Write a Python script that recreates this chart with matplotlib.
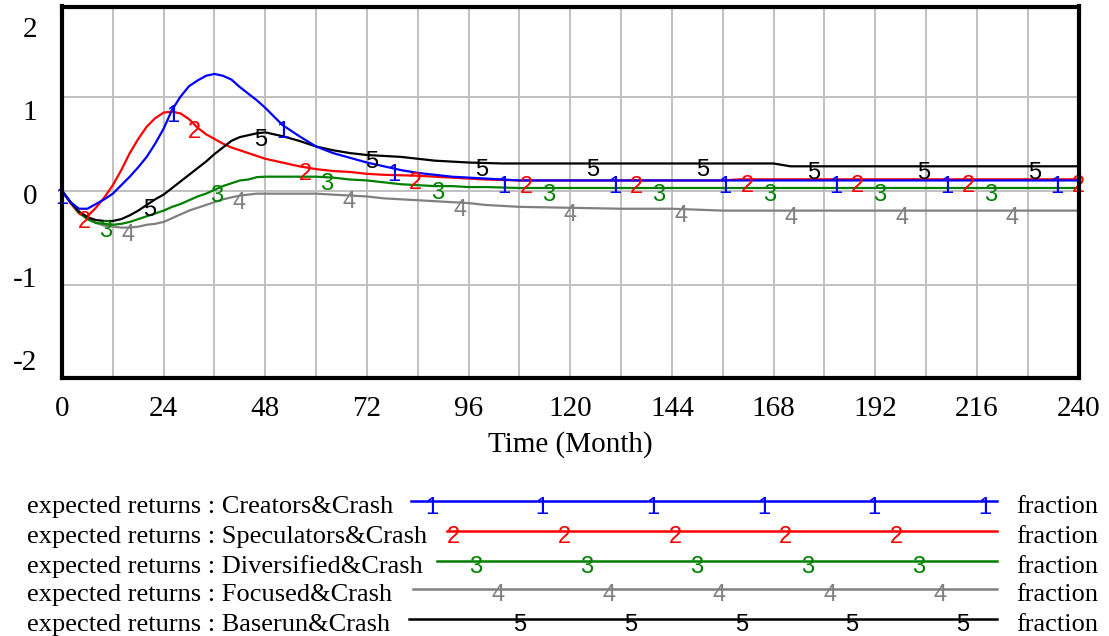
import numpy as np
import matplotlib
matplotlib.use("Agg")
import matplotlib.pyplot as plt
from matplotlib.lines import Line2D

# ---- data (months, expected returns as fraction) ----
months = [0, 2, 4, 6, 8, 10, 12, 14, 16, 18, 20, 22, 24, 26, 28, 30, 32, 34,
          36, 38, 40, 42, 44, 46, 48, 52, 56, 60, 64, 68, 72, 76, 80, 84, 88,
          92, 96, 100, 104, 108, 120, 132, 144, 156, 160, 168, 172, 180, 192,
          204, 216, 228, 240]

creators = [0.0, -0.12, -0.19, -0.19, -0.14, -0.09, -0.03, 0.06, 0.15, 0.25,
            0.36, 0.50, 0.66, 0.86, 1.00, 1.11, 1.17, 1.22, 1.24, 1.22, 1.18,
            1.10, 1.03, 0.96, 0.88, 0.70, 0.58, 0.47, 0.40, 0.35, 0.30, 0.26,
            0.22, 0.19, 0.17, 0.15, 0.14, 0.13, 0.12, 0.11, 0.11, 0.11, 0.11,
            0.11, 0.11, 0.11, 0.11, 0.11, 0.11, 0.11, 0.11, 0.11, 0.11]

speculators = [0.0, -0.13, -0.24, -0.27, -0.18, -0.07, 0.06, 0.22, 0.40, 0.55,
               0.68, 0.77, 0.83, 0.84, 0.82, 0.76, 0.67, 0.60, 0.55, 0.50,
               0.46, 0.43, 0.40, 0.37, 0.34, 0.30, 0.26, 0.23, 0.21, 0.20,
               0.18, 0.17, 0.165, 0.16, 0.15, 0.14, 0.13, 0.12, 0.115, 0.11,
               0.11, 0.11, 0.11, 0.11, 0.122, 0.122, 0.122, 0.122, 0.122,
               0.122, 0.122, 0.122, 0.122]

diversified = [0.0, -0.12, -0.23, -0.30, -0.34, -0.35, -0.36, -0.35, -0.33,
               -0.30, -0.27, -0.24, -0.21, -0.17, -0.14, -0.10, -0.06, -0.03,
               0.01, 0.05, 0.08, 0.11, 0.12, 0.145, 0.15, 0.15, 0.15, 0.15,
               0.14, 0.12, 0.11, 0.09, 0.07, 0.06, 0.05, 0.05, 0.04, 0.04,
               0.035, 0.03, 0.03, 0.03, 0.03, 0.03, 0.03, 0.03, 0.03, 0.03,
               0.03, 0.03, 0.03, 0.03, 0.03]

focused = [0.0, -0.12, -0.23, -0.30, -0.34, -0.37, -0.38, -0.39, -0.39, -0.38,
           -0.36, -0.35, -0.33, -0.29, -0.25, -0.21, -0.18, -0.15, -0.12,
           -0.09, -0.07, -0.05, -0.04, -0.03, -0.03, -0.03, -0.03, -0.03,
           -0.04, -0.05, -0.06, -0.08, -0.09, -0.10, -0.11, -0.12, -0.13,
           -0.15, -0.16, -0.17, -0.18, -0.19, -0.19, -0.21, -0.21, -0.21,
           -0.21, -0.21, -0.21, -0.21, -0.21, -0.21, -0.21]

baserun = [0.0, -0.12, -0.22, -0.28, -0.31, -0.32, -0.32, -0.30, -0.26, -0.21,
           -0.15, -0.09, -0.04, 0.03, 0.10, 0.17, 0.24, 0.31, 0.39, 0.46,
           0.53, 0.57, 0.59, 0.61, 0.62, 0.58, 0.53, 0.47, 0.43, 0.40, 0.38,
           0.37, 0.36, 0.34, 0.32, 0.31, 0.30, 0.295, 0.29, 0.29, 0.29, 0.29,
           0.29, 0.29, 0.29, 0.29, 0.26, 0.26, 0.26, 0.26, 0.26, 0.26, 0.26]

series_values = [creators, speculators, diversified, focused, baserun]
series_names = ["Creators&Crash", "Speculators&Crash", "Diversified&Crash",
                "Focused&Crash", "Baserun&Crash"]
variable_name = "expected returns"
units = "fraction"
x_ticks = list(range(0, 241, 24))
y_tick_labels = ["2", "1", "0", "-1", "-2"]
x_label = "Time (Month)"

colors = ["#0000ff", "#ff0000", "#008000", "#808080", "#000000"]
line_z = [3.5, 3.0, 3.2, 3.1, 3.3]

# ---- layout helpers (pixel -> figure fraction) ----
W, H = 1109, 636
fig = plt.figure(figsize=(W / 100, H / 100), dpi=100)
fx = lambda px: px / W
fy = lambda py: 1 - py / H

SERIF = "Liberation Serif"
SANS = "Liberation Sans"
TXT = 21
DIGIT = 17

ax = fig.add_axes([fx(62), fy(377.5), fx(1078.5) - fx(62), fy(6.5) - fy(377.5)])
ax.set_xlim(0, 240)
ax.set_ylim(-1.98, 1.955)

# grid
for m in range(12, 240, 12):
    ax.axvline(m, color="#c0c0c0", lw=1.4, zorder=1)
for v in (-1, 0, 1):
    ax.axhline(v, color="#c0c0c0", lw=1.4, zorder=1)

for s in ax.spines.values():
    s.set_linewidth(3.0)
    s.set_color("black")
    s.set_zorder(10)

# series lines with numbered markers along them
mark_period = 26.1
mark_shift = 5.2
for i, (vals, c) in enumerate(zip(series_values, colors)):
    ax.plot(months, vals, color=c, lw=1.6, zorder=line_z[i])
    for m in np.arange(i * mark_shift, 240.5, mark_period):
        yv = np.interp(m, months, vals)
        ax.annotate(str(i + 1), (m, yv), xytext=(0, -13), textcoords="offset pixels",
                    ha="center", va="baseline", color=c, fontsize=DIGIT,
                    family=SANS, annotation_clip=False, zorder=4)

# x tick labels
ax.set_xticks(x_ticks)
ax.set_xticklabels([str(t) for t in x_ticks], fontsize=TXT, family=SERIF)
ax.set_yticks([])
ax.tick_params(axis="x", length=0, pad=13)

ax.set_xlabel(x_label, fontsize=TXT, family=SERIF)
ax.xaxis.set_label_coords(0.5, (377.5 - 452) / (377.5 - 6.5))
ax.xaxis.label.set_va("baseline")

# y tick labels, spread evenly down the axis
for lab, base in zip(y_tick_labels, np.linspace(37, 370, len(y_tick_labels))):
    fig.text(fx(37), fy(base), lab, ha="right", va="baseline",
             fontsize=TXT, family=SERIF)

# legend block
row_y = [501.3, 530.7, 560.7, 588.7, 618.7]
line_start = [410.7, 446.7, 436.7, 413.3, 409.3]
line_end = 996.7
for i, (name, c) in enumerate(zip(series_names, colors)):
    y = row_y[i]
    fig.text(fx(27), fy(y + 12), f"{variable_name} : {name}", ha="left",
             va="baseline", fontsize=TXT - 2, family=SERIF)
    fig.add_artist(Line2D([fx(line_start[i]), fx(line_end)], [fy(y), fy(y)],
                          color=c, lw=1.8, transform=fig.transFigure))
    for px in np.arange(431.7 + i * 22.1, line_end, 110.6):
        fig.text(fx(px), fy(y + 12.5), str(i + 1), ha="center", va="baseline",
                 color=c, fontsize=DIGIT, family=SANS)
    fig.text(fx(1016), fy(y + 12), units, ha="left", va="baseline",
             fontsize=TXT - 2, family=SERIF)

fig.savefig("out.png", dpi=100)
